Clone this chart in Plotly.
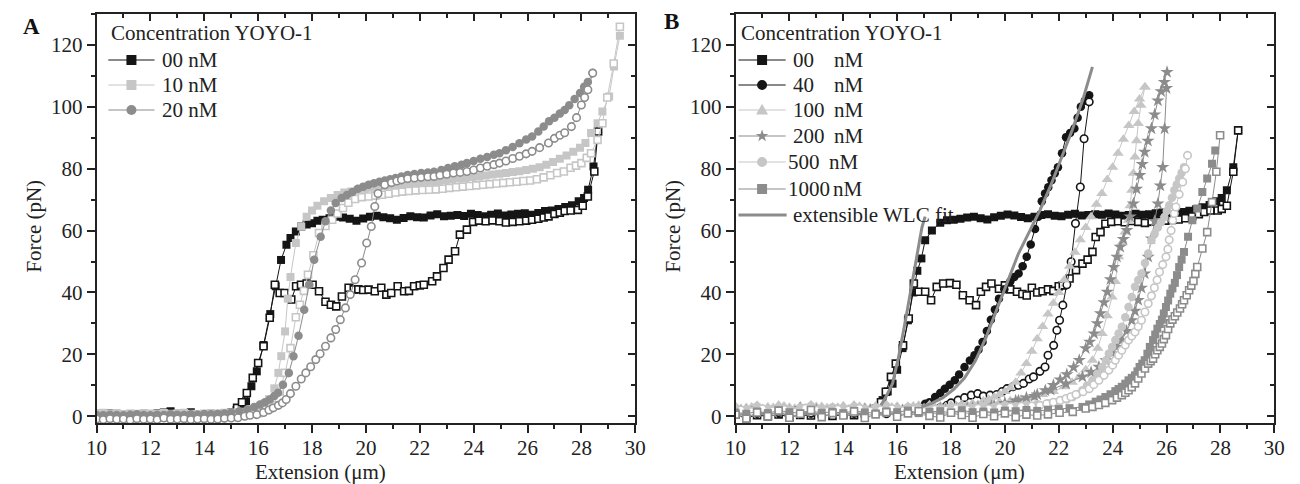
import math
import plotly.graph_objects as go

BLACK = "#151515"
LIGHT = "#c6c6c6"
MID = "#8c8c8c"
FONT = "Liberation Serif"

# ---------------- Panel A data ----------------
a00_s_x = [10.0,10.25,10.5,10.75,11.0,11.25,11.5,11.75,12.0,12.25,12.5,12.75,13.0,13.25,13.5,13.75,14.0,14.25,14.5,14.75,15.0,
           15.2,15.4,15.55,15.75,15.95,16.2,16.45,16.65,16.85,17.05,17.2,17.4,17.6,17.8,18.0,18.2,
           18.4,18.65,18.9,19.15,19.4,19.65,19.9,20.15,20.4,20.65,20.9,21.15,21.4,21.65,21.9,22.15,22.4,22.65,22.9,23.15,
           23.4,23.65,23.9,24.15,24.4,24.65,24.9,25.15,25.4,25.65,25.9,26.15,26.4,26.65,26.9,27.15,27.4,27.65,27.9,
           28.1,28.25,28.45,28.62]
a00_s_y = [0.8,0.6,0.9,0.5,0.4,0.6,0.5,0.7,0.6,0.9,1.2,1.6,0.8,0.7,1.3,0.6,0.5,0.7,0.6,0.8,1.2,
           2.0,3.0,4.8,9.7,14.5,23.0,33.0,42.0,50.5,55.4,57.6,59.7,61.3,62.0,62.4,63.2,
           63.5,64.0,64.5,64.2,63.8,63.2,63.9,64.5,64.8,64.3,64.0,63.5,64.1,64.6,64.3,64.2,64.9,65.3,64.6,64.8,
           65.0,64.7,65.4,65.0,64.6,65.1,65.5,64.9,65.2,65.4,65.6,65.1,65.7,66.3,66.5,67.0,67.6,68.2,69.5,
           70.5,73.2,80.7,92.0]

a00_r_x = [10.0,10.25,10.5,10.75,11.0,11.25,11.5,11.75,12.0,12.25,12.5,12.75,13.0,13.25,13.5,13.75,14.0,14.25,14.5,14.75,15.0,
           15.22,15.4,15.58,15.8,16.0,16.2,16.43,16.62,16.8,16.98,17.23,17.41,17.59,17.8,18.02,18.26,18.5,18.7,18.9,19.11,
           19.36,19.55,19.72,19.9,20.1,20.33,20.57,20.76,20.94,21.18,21.42,21.6,21.79,22.0,22.15,22.46,22.64,22.88,23.07,23.31,
           23.49,23.75,23.98,24.2,24.45,24.7,24.96,25.2,25.45,25.7,25.95,26.17,26.4,26.6,26.78,27.0,27.2,27.38,27.6,27.87,
           28.05,28.24,28.48,28.62]
a00_r_y = [0.4,0.3,0.5,0.6,0.3,0.4,0.5,0.3,0.4,0.6,0.5,0.8,0.4,0.5,0.6,0.4,0.3,0.5,0.6,0.7,1.0,
           2.7,4.5,7.5,12.4,17.2,22.6,31.8,42.5,39.8,39.8,37.7,42.0,42.5,42.9,42.5,40.4,37.0,36.0,35.5,38.7,
           41.5,41.0,41.0,40.8,40.9,40.4,41.5,39.3,39.8,42.0,40.4,40.5,42.0,42.3,42.5,43.6,45.2,47.9,50.6,53.3,
           58.7,60.3,62.8,63.2,63.0,63.3,63.0,62.6,62.8,63.0,63.2,63.5,63.8,64.2,64.6,65.4,65.8,66.3,66.5,66.7,
           68.0,71.0,79.1,92.0]

a10_s_x = [10.0,10.25,10.5,10.75,11.0,11.25,11.5,11.75,12.0,12.25,12.5,12.75,13.0,13.25,13.5,13.75,14.0,14.25,14.5,14.75,15.0,15.25,15.5,
           15.75,16.0,16.2,16.4,16.6,16.75,16.86,17.0,17.1,17.2,17.4,17.6,17.8,18.0,18.2,18.45,18.7,18.95,19.2,19.45,
           19.7,19.95,20.2,20.45,20.7,20.95,21.2,21.45,21.7,21.95,22.2,22.45,22.7,22.95,23.2,23.45,23.7,23.95,24.2,24.45,
           24.7,24.95,25.2,25.45,25.7,25.95,26.2,26.45,26.7,26.95,27.2,27.45,27.7,27.95,28.15,28.36,28.6,28.78,29.03,29.21,29.43]
a10_s_y = [0.9,1.1,0.8,1.0,0.7,0.9,0.8,1.0,0.9,0.7,1.0,0.8,0.9,1.1,0.8,0.7,0.9,1.0,0.8,1.1,1.2,1.3,1.4,
           1.5,2.5,3.8,5.5,9.0,14.0,19.4,27.4,38.0,45.0,56.0,61.3,64.5,66.5,68.0,69.5,70.5,71.5,72.3,72.6,
           73.0,73.5,73.8,74.0,74.3,74.6,74.8,75.0,75.2,75.4,75.6,75.8,76.0,76.2,76.5,76.8,77.0,77.3,77.5,77.8,
           78.1,78.4,78.6,78.9,79.2,79.6,80.0,80.5,81.3,82.2,83.2,84.3,85.5,86.8,88.3,91.5,94.7,98.5,103.3,113.0,123.0]

a10_r_x = [10.0,10.25,10.5,10.75,11.0,11.25,11.5,11.75,12.0,12.25,12.5,12.75,13.0,13.25,13.5,13.75,14.0,14.25,14.5,14.75,15.0,15.25,15.5,15.75,
           16.0,16.3,16.55,16.8,17.0,17.2,17.4,17.55,17.7,17.85,18.05,18.26,18.5,18.75,18.95,19.15,19.35,19.6,19.85,20.1,
           20.35,20.6,20.85,21.1,21.35,21.6,21.85,22.1,22.35,22.6,22.85,23.1,23.35,23.6,23.85,24.1,24.35,24.6,24.85,25.1,
           25.35,25.6,25.85,26.1,26.35,26.6,26.85,27.1,27.35,27.6,27.8,28.0,28.2,28.36,28.6,28.78,28.96,29.2,29.43]
a10_r_y = [0.5,0.3,0.6,0.4,0.5,0.7,0.4,0.3,0.6,0.5,0.4,0.6,0.5,0.3,0.4,0.6,0.5,0.7,0.4,0.5,0.6,0.7,0.8,0.9,
           1.0,2.0,3.5,8.0,14.0,22.0,32.0,36.0,40.5,45.7,52.0,59.2,61.5,63.5,65.5,67.3,69.0,70.2,70.8,71.0,
           71.3,71.6,71.9,72.3,72.6,72.8,73.0,73.1,73.2,73.3,73.5,73.8,74.0,74.2,74.4,74.6,74.8,75.0,75.2,75.4,
           75.6,75.8,76.0,76.2,76.6,77.2,77.9,78.6,79.1,80.3,81.0,81.8,83.5,85.0,89.3,94.7,103.0,114.0,125.9]

a20_s_x = [10.0,10.25,10.5,10.75,11.0,11.25,11.5,11.75,12.0,12.25,12.5,12.75,13.0,13.25,13.5,13.75,14.0,14.25,14.5,14.75,
           15.0,15.3,15.6,15.85,16.07,16.25,16.43,16.6,16.74,16.92,17.14,17.31,17.5,17.71,17.9,18.08,18.32,18.5,18.7,18.88,
           19.1,19.3,19.5,19.7,19.9,20.1,20.3,20.5,20.7,20.9,21.1,21.32,21.55,21.8,22.05,22.3,22.53,22.8,23.05,23.3,
           23.55,23.75,24.0,24.25,24.5,24.75,24.96,25.2,25.45,25.7,25.95,26.17,26.4,26.6,26.8,27.0,27.2,27.38,27.55,27.75,
           27.95,28.1,28.24,28.42]
a20_s_y = [0.4,0.3,0.5,0.4,0.3,0.5,0.6,0.4,0.3,0.5,0.4,0.6,0.5,0.4,0.6,0.5,0.7,0.6,0.8,0.9,
           1.2,1.6,2.2,3.0,3.8,4.5,5.4,6.5,7.6,10.2,14.0,19.4,26.0,34.4,42.5,50.6,58.0,63.0,66.5,68.9,
           70.5,71.5,72.5,73.5,74.2,74.8,75.3,75.8,76.2,76.6,77.0,77.5,78.0,78.3,78.6,78.8,79.0,79.6,80.2,80.8,
           81.3,81.8,82.5,83.2,83.8,84.5,85.0,86.0,87.0,88.2,89.4,90.4,92.0,93.6,95.3,96.5,97.8,99.0,100.5,102.5,
           104.5,106.5,108.0,110.9]

a20_r_x = [10.0,10.25,10.5,10.75,11.0,11.25,11.5,11.75,12.0,12.25,12.5,12.75,13.0,13.25,13.5,13.75,14.0,14.25,14.5,14.75,15.0,
           15.25,15.5,15.7,15.95,16.2,16.4,16.56,16.75,16.9,17.04,17.2,17.4,17.6,17.77,17.95,18.14,18.3,18.5,18.7,18.88,
           19.05,19.24,19.42,19.6,19.84,20.03,20.2,20.33,20.45,20.7,20.95,21.15,21.32,21.55,21.8,22.05,22.3,22.53,22.75,23.0,
           23.25,23.5,23.75,24.0,24.25,24.5,24.75,24.96,25.2,25.45,25.7,25.95,26.17,26.45,26.78,27.0,27.2,27.38,27.63,27.82,
           28.0,28.12,28.24,28.42]
a20_r_y = [-0.9,-1.1,-0.8,-1.0,-0.9,-1.2,-0.8,-1.0,-0.9,-1.1,-0.6,-1.0,-0.9,-0.8,-1.1,-0.9,-0.8,-1.0,-0.9,-0.7,-0.6,
           -0.5,0.0,0.3,0.5,1.2,2.0,2.7,3.5,4.3,5.4,7.3,9.7,12.0,14.0,16.0,18.3,20.2,22.6,25.3,28.0,
           31.2,35.0,39.3,44.1,49.5,56.0,61.3,67.8,72.0,74.8,75.5,76.0,76.4,76.8,77.0,77.2,77.4,77.5,77.9,78.2,
           78.6,78.8,79.1,79.6,80.2,80.8,81.3,81.8,82.5,83.3,84.0,84.8,85.6,86.8,88.3,89.8,90.8,91.6,93.6,96.5,
           100.6,103.0,105.5,110.9]

# ---------------- Panel B data ----------------
b00_s_x = [10.0,10.4,10.8,11.2,11.6,12.0,12.4,12.8,13.2,13.6,14.0,14.4,14.8,15.2,
           15.46,15.65,15.83,16.0,16.2,16.4,16.6,16.75,16.9,17.04,17.29,17.6,17.85,18.1,
           18.35,18.6,18.85,19.1,19.35,19.6,19.85,20.1,20.35,20.6,20.85,21.1,21.35,21.6,21.85,22.1,22.35,22.6,22.85,23.1,
           23.35,23.6,23.85,24.1,24.35,24.6,24.85,25.1,25.35,25.6,25.85,26.1,26.35,26.6,26.85,27.1,27.35,27.6,27.85,
           28.05,28.24,28.48,28.66]
b00_s_y = [1.0,0.5,1.2,0.8,1.5,1.0,0.7,1.3,0.9,1.4,1.1,0.8,1.6,2.5,
           5.2,8.0,10.5,15.0,22.0,31.0,40.0,47.0,51.0,56.9,60.0,62.5,63.3,63.5,
           63.8,64.2,64.5,64.0,63.6,64.3,64.8,65.2,64.9,64.4,64.0,64.5,65.0,65.3,64.8,64.6,65.1,65.4,64.9,65.0,
           65.3,65.1,65.5,65.2,64.8,65.0,65.4,65.1,65.3,65.6,65.8,65.3,65.6,66.0,66.4,66.9,67.5,68.3,69.5,
           70.5,73.0,80.5,92.4]

b00_r_x = [10.0,10.4,10.8,11.2,11.6,12.0,12.4,12.8,13.2,13.6,14.0,14.4,14.8,15.2,
           15.4,15.58,15.77,15.95,16.22,16.43,16.62,16.8,17.04,17.26,17.47,17.71,17.96,18.2,18.44,18.69,18.93,19.11,19.3,19.5,
           19.78,20.0,20.2,20.45,20.65,20.81,21.0,21.2,21.4,21.6,21.8,22.0,22.15,22.4,22.64,22.88,23.07,23.25,23.37,23.55,
           23.73,23.95,24.2,24.45,24.7,24.95,25.2,25.45,25.7,25.95,26.2,26.45,26.7,26.95,27.2,27.4,27.63,27.9,28.05,28.24,
           28.48,28.66]
b00_r_y = [0.5,-0.5,0.3,0.0,0.6,-0.3,0.4,0.2,0.8,0.1,0.5,0.3,0.9,2.0,
           4.5,7.9,12.7,17.0,22.9,31.6,42.9,40.2,40.2,37.5,41.8,42.9,43.0,42.5,39.1,37.5,35.9,40.2,41.8,42.9,
           41.2,42.3,41.0,40.2,39.5,39.0,41.5,40.0,40.4,41.0,40.5,42.0,42.3,44.5,47.2,49.3,50.6,53.1,57.9,59.5,
           62.2,62.8,63.0,62.7,63.1,62.8,62.5,62.9,63.0,63.2,63.4,63.6,64.0,64.6,65.3,66.0,66.5,66.5,67.0,68.0,
           79.0,92.4]

b40_s_x = [10.0,10.4,10.8,11.2,11.6,12.0,12.4,12.8,13.2,13.6,14.0,14.4,14.8,15.2,15.6,16.0,16.4,16.8,
           17.04,17.2,17.41,17.6,17.77,17.95,18.14,18.3,18.5,18.7,18.87,19.02,19.17,19.33,19.48,19.63,19.78,19.98,20.2,20.35,
           20.51,20.66,20.81,20.96,21.12,21.24,21.37,21.49,21.61,21.73,21.85,21.97,22.12,22.27,22.42,22.58,22.7,22.82,22.97,23.13]
b40_s_y = [0.5,1.2,0.8,1.5,1.0,0.6,1.3,0.9,1.1,1.6,0.8,1.2,1.5,1.0,1.4,1.8,2.2,2.8,
           4.0,4.5,6.2,7.5,8.9,10.2,11.6,13.5,15.9,18.0,19.7,21.5,24.0,27.5,31.2,34.5,38.0,41.0,43.5,45.0,
           46.1,48.5,51.5,55.5,60.5,64.5,69.5,72.0,74.0,76.3,78.5,80.5,85.0,90.2,91.5,93.0,96.5,100.0,102.0,103.7]

b40_r_x = [10.0,10.4,10.8,11.2,11.6,12.0,12.4,12.8,13.2,13.6,14.0,14.4,14.8,15.2,15.6,16.0,16.4,16.8,17.2,17.6,
           17.85,18.0,18.26,18.5,18.75,18.99,19.2,19.45,19.7,19.9,20.08,20.3,20.5,20.69,20.9,21.06,21.3,21.49,21.6,21.81,
           21.93,22.03,22.15,22.3,22.46,22.62,22.8,22.94,23.13]
b40_r_y = [1.0,0.4,1.5,0.8,1.2,0.6,1.8,1.0,0.7,1.4,1.1,0.9,1.6,1.2,0.8,1.5,1.3,1.9,2.2,2.8,
           3.5,4.3,5.2,6.0,6.8,7.3,6.5,6.8,7.0,8.0,8.9,9.5,10.0,10.6,12.0,12.7,14.5,15.9,19.7,22.9,
           27.8,31.0,35.9,42.5,49.9,62.3,74.1,89.7,101.6]

b100_s_x = [10.0,10.4,10.8,11.2,11.6,12.0,12.4,12.8,13.2,13.6,14.0,14.4,14.8,15.2,15.6,16.0,16.4,16.8,17.2,17.6,18.0,18.4,18.8,
            19.2,19.4,19.6,19.8,20.0,20.2,20.4,20.6,20.8,21.0,21.2,21.4,21.6,21.8,22.0,22.2,22.4,22.6,22.8,23.0,
            23.2,23.4,23.6,23.8,24.0,24.2,24.4,24.6,24.8,25.0,25.2]
b100_s_y = [3.2,2.8,3.5,3.0,3.6,2.9,3.3,3.7,3.1,2.8,3.4,3.6,3.0,3.3,3.8,3.2,2.9,3.5,3.7,3.3,3.6,3.9,4.2,
            5.0,5.5,6.2,7.0,8.0,9.2,11.0,14.0,17.0,21.0,25.0,29.0,33.0,36.5,40.0,44.0,48.5,53.0,57.0,61.0,
            64.5,68.5,72.0,76.5,80.5,85.0,89.5,94.0,98.5,102.5,106.4]

b100_r_x = [10.2,10.6,11.0,11.4,11.8,12.2,12.6,13.0,13.4,13.8,14.2,14.6,15.0,15.4,15.8,16.2,16.6,17.0,17.4,17.8,18.2,18.6,
            19.0,19.4,19.8,20.2,20.6,21.0,21.4,21.8,22.2,22.5,22.76,23.0,23.25,23.45,23.61,23.8,23.98,24.1,24.22,24.34,
            24.46,24.59,24.65,24.71,24.77,24.83,24.89,24.95,25.05,25.2]
b100_r_y = [2.5,3.0,2.2,2.8,3.3,2.6,2.4,3.1,2.7,2.9,2.3,3.2,2.6,2.8,3.0,2.5,3.3,2.7,2.9,3.1,3.4,3.6,
            3.8,4.2,4.6,5.0,5.5,6.0,7.0,8.0,9.5,11.0,12.7,15.0,18.1,22.0,26.7,32.5,38.5,43.5,51.5,56.0,
            59.5,63.3,68.0,73.0,78.5,83.8,89.0,94.6,100.5,106.4]

b200_s_x = [10.0,10.4,10.8,11.2,11.6,12.0,12.4,12.8,13.2,13.6,14.0,14.4,14.8,15.2,15.6,16.0,16.4,16.8,17.2,17.6,18.0,18.4,18.8,19.2,
            19.6,20.0,20.4,20.8,21.2,21.5,21.8,22.05,22.3,22.55,22.76,23.0,23.15,23.31,23.43,23.55,23.68,23.8,23.92,24.04,
            24.16,24.28,24.4,24.53,24.65,24.77,24.89,25.01,25.1,25.19,25.31,25.44,25.56,25.68,25.8,25.92,26.02]
b200_s_y = [2.0,1.6,2.4,1.8,2.2,1.5,2.6,2.0,1.7,2.3,1.9,2.5,2.1,1.8,2.4,2.0,2.6,2.2,1.9,2.5,2.3,2.7,2.6,2.9,
            3.4,4.2,5.0,6.0,7.0,8.3,10.0,11.8,13.5,15.8,18.1,21.9,24.0,26.7,30.0,33.2,36.8,40.2,44.2,48.2,
            51.5,54.7,57.2,60.1,64.5,68.7,73.5,77.9,81.5,85.4,89.0,93.0,97.5,102.0,105.0,108.0,111.2]

b200_r_x = [10.2,10.6,11.0,11.4,11.8,12.2,12.6,13.0,13.4,13.8,14.2,14.6,15.0,15.4,15.8,16.2,16.6,17.0,17.4,17.8,18.2,18.6,
            19.0,19.5,20.0,20.5,21.1,21.7,22.27,22.88,23.2,23.49,23.75,23.98,24.15,24.34,24.52,24.71,24.83,24.95,25.07,25.19,
            25.32,25.44,25.56,25.68,25.77,25.86,25.93,26.0]
b200_r_y = [1.5,1.0,1.8,1.2,1.6,0.9,1.4,1.9,1.1,1.7,1.3,1.5,2.0,1.2,1.6,1.8,1.4,2.1,1.7,1.9,2.2,2.5,
            2.8,3.2,4.0,5.0,6.5,8.5,10.5,12.7,14.2,15.9,18.0,20.3,22.3,24.6,27.5,31.0,34.0,37.5,41.5,46.1,
            51.5,57.4,63.0,68.7,74.5,80.5,93.0,106.0]

b500_s_x = [10.0,10.4,10.8,11.2,11.6,12.0,12.4,12.8,13.2,13.6,14.0,14.4,14.8,15.2,15.6,16.0,16.4,16.8,17.2,17.6,18.0,18.4,18.8,19.2,
            19.6,20.0,20.4,20.8,21.2,
            21.6,22.0,22.3,22.52,22.7,22.88,23.05,23.25,23.43,23.61,23.75,23.86,23.98,24.1,24.22,24.34,24.47,24.59,24.71,24.83,
            24.95,25.07,25.2,25.32,25.44,25.56,25.68,25.8,25.92,26.01,26.1,26.2,26.29,26.38,26.47,26.56,26.65]
b500_s_y = [2.8,2.2,3.2,2.5,3.0,2.0,2.7,3.4,2.4,2.9,2.6,3.1,2.3,2.8,3.3,2.5,3.0,2.7,3.2,2.4,2.9,3.1,2.6,3.3,
            3.0,3.5,3.2,3.6,3.9,
            4.2,4.6,5.4,6.2,7.2,8.4,9.9,11.6,13.7,15.9,18.0,20.3,22.4,24.6,26.7,28.9,32.0,35.3,38.5,41.8,
            44.0,46.1,49.5,52.6,56.9,59.0,61.0,62.7,64.4,66.3,68.2,70.6,73.0,74.9,76.8,78.7,80.5]

b500_r_x = [10.2,10.6,11.0,11.4,11.8,12.2,12.6,13.0,13.4,13.8,14.2,14.6,15.0,15.4,15.8,16.2,16.6,17.0,17.4,17.8,18.2,18.6,19.0,
            19.4,19.8,20.2,20.6,
            21.0,21.3,21.55,21.8,22.05,22.27,22.45,22.64,22.9,23.13,23.3,23.49,23.68,23.86,24.0,24.1,24.22,24.34,24.47,24.59,
            24.71,24.83,24.95,25.07,25.2,25.32,25.44,25.55,25.65,25.74,25.86,25.98,26.05,26.1,26.17,26.23,26.29,26.35,26.47,26.6,
            26.7,26.78]
b500_r_y = [2.0,1.5,2.4,1.8,2.2,1.4,2.6,1.9,1.6,2.3,2.0,2.5,1.7,2.1,2.4,1.8,2.2,1.6,2.3,2.0,2.5,2.2,2.6,
            2.4,2.8,3.0,3.2,
            3.3,3.5,4.0,4.5,5.1,5.7,6.3,7.0,7.9,8.9,10.2,11.6,13.2,14.9,16.5,18.1,19.7,21.3,23.0,24.6,
            25.9,27.2,29.0,31.0,33.7,36.4,38.9,41.5,44.0,46.6,49.0,51.5,54.0,57.0,60.0,63.3,65.5,67.6,71.7,75.7,
            80.0,84.3]

b1000_s_x = [10.0,10.4,10.8,11.2,11.6,12.0,12.4,12.8,13.2,13.6,14.0,14.4,14.8,15.2,15.6,16.0,16.4,16.8,17.2,17.6,18.0,18.4,18.8,19.2,
             19.6,20.0,20.4,20.8,21.2,21.6,22.0,22.4,
             22.88,23.13,23.37,23.55,23.73,23.92,24.1,24.22,24.34,24.47,24.59,24.71,24.83,24.92,25.0,25.1,25.19,25.29,25.38,25.5,
             25.58,25.66,25.75,25.83,25.9,25.98,26.06,26.14,26.22,26.31,26.39,26.47,26.56,26.65,26.8,26.96,27.14,27.33,27.51,27.69,
             27.81]
b1000_s_y = [1.2,0.8,1.5,1.0,1.8,1.3,0.9,1.6,1.1,1.4,1.0,1.7,1.2,0.9,1.5,1.3,1.8,1.0,1.4,1.6,1.1,1.9,1.3,1.5,
             1.2,1.8,1.6,2.0,1.7,2.1,2.3,2.6,
             3.0,3.8,4.7,5.4,6.2,7.1,8.1,8.8,9.5,10.5,11.6,12.4,13.2,14.5,15.9,17.0,18.1,20.2,22.4,24.6,
             26.4,28.3,29.8,31.2,33.2,35.3,37.4,39.6,41.3,43.1,45.6,48.2,50.6,53.1,58.0,63.3,67.1,72.5,76.8,81.6,
             85.9]

b1000_r_x = [10.0,10.4,10.8,11.2,11.6,12.0,12.4,12.8,13.2,13.6,14.0,14.4,14.8,15.2,15.6,16.0,16.4,16.8,17.2,17.6,18.0,18.4,18.8,19.2,
             19.6,20.0,20.4,20.8,21.2,
             21.6,22.03,22.52,23.0,23.25,23.49,23.73,23.98,24.16,24.34,24.47,24.59,24.71,24.83,24.95,25.07,25.2,25.32,25.41,25.5,
             25.58,25.66,25.75,25.83,25.9,25.98,26.06,26.14,26.22,26.31,26.4,26.5,26.58,26.65,26.75,26.84,26.92,27.0,27.07,27.14,
             27.33,27.51,27.69,27.85,27.99]
b1000_r_y = [0.5,-0.8,1.2,0.0,1.8,-0.5,0.8,2.0,-0.3,1.0,0.2,1.5,-0.6,0.6,1.3,-0.2,0.9,1.6,0.1,-0.4,1.1,0.4,-0.5,0.7,
             0.0,0.9,-0.3,0.5,0.2,
             0.6,1.1,1.4,2.5,3.0,3.6,4.3,5.2,6.0,6.8,7.6,8.4,9.4,10.6,12.2,13.8,15.4,17.0,17.8,18.6,
             20.0,21.3,22.4,23.5,24.9,26.2,28.2,30.0,31.2,32.3,33.5,34.8,36.2,37.5,39.1,40.7,42.2,43.7,46.0,48.2,
             54.2,59.5,69.2,79.0,90.8]

fit1_x = [15.4,15.6,15.83,16.05,16.31,16.55,16.74,16.92,17.04]
fit1_y = [3.5,6.5,10.6,19.0,31.0,42.5,52.6,61.0,64.5]
fit2_x = [16.9,17.3,17.7,18.1,18.5,18.9,19.3,19.7,20.1,20.5,20.9,21.3,21.7,22.1,22.5,22.9,23.25]
fit2_y = [3.0,4.2,6.0,8.7,12.3,17.8,25.5,34.5,43.5,52.5,59.5,66.5,74.5,83.5,92.5,102.5,112.9]

# legend texts
legend_title = "Concentration YOYO-1"
conc_a = ["00 nM", "10 nM", "20 nM"]
conc_b = ["00", "40", "100", "200", "500", "1000"]
unit_b = "nM"
fit_label = "extensible WLC fit"

pairs = [(a00_s_x,a00_s_y),(a00_r_x,a00_r_y),(a10_s_x,a10_s_y),(a10_r_x,a10_r_y),(a20_s_x,a20_s_y),(a20_r_x,a20_r_y),
         (b00_s_x,b00_s_y),(b00_r_x,b00_r_y),(b40_s_x,b40_s_y),(b40_r_x,b40_r_y),(b100_s_x,b100_s_y),(b100_r_x,b100_r_y),
         (b200_s_x,b200_s_y),(b200_r_x,b200_r_y),(b500_s_x,b500_s_y),(b500_r_x,b500_r_y),(b1000_s_x,b1000_s_y),
         (b1000_r_x,b1000_r_y),(fit1_x,fit1_y),(fit2_x,fit2_y)]
for i, (px_, py_) in enumerate(pairs):
    assert len(px_) == len(py_), (i, len(px_), len(py_))

fig = go.Figure()


def add(x, y, xa, ya, color, symbol, size, hollow, name):
    fig.add_trace(go.Scatter(
        x=x, y=y, xaxis=xa, yaxis=ya, mode="lines+markers", name=name,
        line=dict(color=color, width=1.0),
        marker=dict(symbol=symbol, size=size,
                    color="white" if hollow else color,
                    line=dict(color=color, width=1.6 if hollow else 0)),
        showlegend=False))


# Panel A
add(a00_s_x, a00_s_y, "x", "y", BLACK, "square", 8, False, "00 nM stretch")
add(a00_r_x, a00_r_y, "x", "y", BLACK, "square", 7, True, "00 nM relax")
add(a10_s_x, a10_s_y, "x", "y", LIGHT, "square", 8, False, "10 nM stretch")
add(a10_r_x, a10_r_y, "x", "y", LIGHT, "square", 7, True, "10 nM relax")
add(a20_s_x, a20_s_y, "x", "y", MID, "circle", 8.5, False, "20 nM stretch")
add(a20_r_x, a20_r_y, "x", "y", MID, "circle", 7.5, True, "20 nM relax")

# Panel B
add(b00_s_x, b00_s_y, "x2", "y2", BLACK, "square", 8, False, "00 nM stretch")
add(b00_r_x, b00_r_y, "x2", "y2", BLACK, "square", 7, True, "00 nM relax")
add(b40_s_x, b40_s_y, "x2", "y2", BLACK, "circle", 8.5, False, "40 nM stretch")
add(b40_r_x, b40_r_y, "x2", "y2", BLACK, "circle", 7.5, True, "40 nM relax")
add(b100_s_x, b100_s_y, "x2", "y2", LIGHT, "triangle-up", 10, False, "100 nM stretch")
add(b100_r_x, b100_r_y, "x2", "y2", LIGHT, "triangle-up", 10, False, "100 nM relax")
add(b200_s_x, b200_s_y, "x2", "y2", MID, "star", 10, False, "200 nM stretch")
add(b200_r_x, b200_r_y, "x2", "y2", MID, "star", 10, False, "200 nM relax")
add(b500_s_x, b500_s_y, "x2", "y2", LIGHT, "circle", 8.5, False, "500 nM stretch")
add(b500_r_x, b500_r_y, "x2", "y2", LIGHT, "circle", 7.5, True, "500 nM relax")
add(b1000_s_x, b1000_s_y, "x2", "y2", MID, "square", 8, False, "1000 nM stretch")
add(b1000_r_x, b1000_r_y, "x2", "y2", MID, "square", 7, True, "1000 nM relax")
for fx, fy in ((fit1_x, fit1_y), (fit2_x, fit2_y)):
    fig.add_trace(go.Scatter(x=fx, y=fy, xaxis="x2", yaxis="y2", mode="lines", name=fit_label,
                             line=dict(color=MID, width=3), showlegend=False))

# dummy traces for mirrored inside ticks (top / right)
fig.add_trace(go.Scatter(x=[], y=[], xaxis="x3", yaxis="y3", showlegend=False))
fig.add_trace(go.Scatter(x=[], y=[], xaxis="x4", yaxis="y4", showlegend=False))

XR = [10, 30]
YR = [-2.2, 130]
AX = "#222222"
FS = 21
tickfont = dict(family=FONT, size=FS, color=AX)


def xax(domain, anchor):
    return dict(domain=domain, range=XR, anchor=anchor, tick0=10, dtick=2, ticks="outside", ticklen=8,
                tickwidth=1.5, tickcolor=AX, minor=dict(dtick=1, ticks="outside", ticklen=4, tickwidth=1.5, tickcolor=AX),
                showline=True, linewidth=1.6, linecolor=AX, mirror=True, showgrid=False, zeroline=False,
                tickfont=tickfont, ticklabelstandoff=-3)


def yax(anchor):
    return dict(domain=[0, 1], range=YR, anchor=anchor, tick0=0, dtick=20, ticks="outside", ticklen=8,
                tickwidth=1.5, tickcolor=AX, minor=dict(dtick=10, ticks="outside", ticklen=4, tickwidth=1.5, tickcolor=AX),
                showline=True, linewidth=1.6, linecolor=AX, mirror=True, showgrid=False, zeroline=False,
                tickfont=tickfont)


def xtop(over, anchor):
    return dict(overlaying=over, side="top", anchor=anchor, range=XR, tick0=10, dtick=2, ticks="inside", ticklen=7,
                tickwidth=1.5, tickcolor=AX, minor=dict(dtick=1, ticks="inside", ticklen=4, tickwidth=1.5, tickcolor=AX),
                showticklabels=False, showline=False, showgrid=False, zeroline=False)


def yright(over, anchor):
    return dict(overlaying=over, side="right", anchor=anchor, range=YR, tick0=0, dtick=20, ticks="inside", ticklen=7,
                tickwidth=1.5, tickcolor=AX, minor=dict(dtick=10, ticks="inside", ticklen=4, tickwidth=1.5, tickcolor=AX),
                showticklabels=False, showline=False, showgrid=False, zeroline=False)


W, H = 1300, 484
TOP, BOT = 14, 423


def px(xpx):
    return xpx / W


def py(ypx):
    return (BOT - ypx) / (BOT - TOP)


annotations = []
shapes = []


def text(t, xpx, ypx, anchor="left", size=FS, bold=False, angle=0):
    annotations.append(dict(text=f"<b>{t}</b>" if bold else t, x=px(xpx), y=py(ypx), xref="paper", yref="paper",
                            xanchor=anchor, yanchor="middle", showarrow=False, textangle=angle,
                            font=dict(family=FONT, size=size, color="#111" if bold else AX)))


def glyph_path(symbol, s):
    if symbol == "triangle":
        r = s / 2
        pts = [(-r, -0.75 * r), (r, -0.75 * r), (0, 1.05 * r)]
    else:  # star
        pts = []
        for k in range(10):
            ang = math.pi / 2 + k * math.pi / 5
            rad = s / 2 if k % 2 == 0 else s / 5
            pts.append((rad * math.cos(ang), rad * math.sin(ang)))
    return "M " + " L ".join(f"{a:.2f} {b:.2f}" for a, b in pts) + " Z"


def swatch(x0, x1, ypx, color, symbol, size, lw=1.2):
    shapes.append(dict(type="line", xref="paper", yref="paper", x0=px(x0), x1=px(x1), y0=py(ypx), y1=py(ypx),
                       line=dict(color=color, width=lw), layer="above"))
    if symbol is None:
        return
    xc = (x0 + x1) / 2
    base = dict(xref="paper", yref="paper", xsizemode="pixel", ysizemode="pixel", xanchor=px(xc), yanchor=py(ypx),
                fillcolor=color, line=dict(width=0), layer="above")
    h = size / 2
    if symbol in ("square", "circle"):
        shapes.append(dict(type="rect" if symbol == "square" else "circle", x0=-h, x1=h, y0=-h, y1=h, **base))
    else:
        shapes.append(dict(type="path", path=glyph_path(symbol, size), **base))


# legend A
text(legend_title, 100, 33)
a_style = [(BLACK, "square"), (LIGHT, "square"), (MID, "circle")]
for (lbl, (col, sym), yy) in zip(conc_a, a_style, [60, 85, 110]):
    swatch(99, 146, yy, col, sym, 10)
    text(lbl, 152, yy)

# legend B
text(legend_title, 741, 33)
b_style = [(BLACK, "square", 10), (BLACK, "circle", 10), (LIGHT, "triangle", 12), (MID, "star", 13),
           (LIGHT, "circle", 10), (MID, "square", 10)]
b_rows = [60, 85, 110, 136, 162, 189]
for (lbl, (col, sym, sz), yy) in zip(conc_b, b_style, b_rows):
    swatch(740, 788, yy, col, sym, sz)
    xnum = 788 if lbl in ("500", "1000") else 793
    text(lbl, xnum, yy)
    text(unit_b, 834 if lbl == "1000" else (830 if lbl == "500" else 835), yy)
swatch(740, 789, 215, MID, None, 0, lw=3)
text(fit_label, 793, 215)

# panel letters and axis titles
text("A", 21, 26, anchor="center", size=23, bold=True)
text("B", 672, 22, anchor="center", size=23, bold=True)
text("Force (pN)", 23, 226, anchor="center", angle=-90)
text("Force (pN)", 673, 226, anchor="center", angle=-90)
text("Extension (μm)", 315, 472, anchor="center")
text("Extension (μm)", 965, 472, anchor="center")

fig.update_layout(
    width=W, height=H, autosize=False,
    margin=dict(l=0, r=0, t=TOP, b=H - BOT, pad=0),
    paper_bgcolor="white", plot_bgcolor="white",
    font=dict(family=FONT, size=FS, color=AX),
    showlegend=False,
    xaxis=xax([87 / W, 635 / W], "y"),
    yaxis=yax("x"),
    xaxis2=xax([737 / W, 1285 / W], "y2"),
    yaxis2=yax("x2"),
    xaxis3=xtop("x", "y"),
    yaxis3=yright("y", "x"),
    xaxis4=xtop("x2", "y2"),
    yaxis4=yright("y2", "x2"),
    annotations=annotations,
    shapes=shapes,
)

fig.write_html("out.html")
